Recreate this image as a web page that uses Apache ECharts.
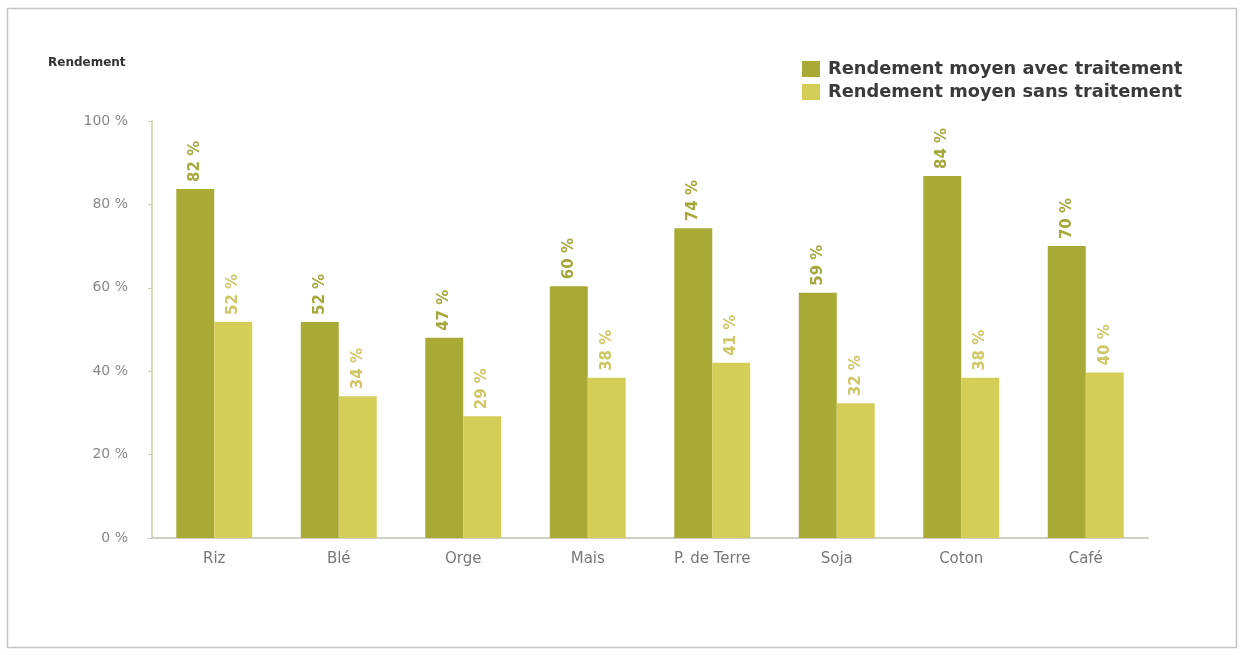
<!DOCTYPE html>
<html>
<head>
<meta charset="utf-8">
<script src="https://cdn.jsdelivr.net/npm/echarts@6/dist/echarts.min.js"></script>
<style>
html,body{margin:0;padding:0;background:#fff;}
#c{width:1244px;height:655px;}
</style>
</head>
<body>
<div id="c"></div>
<script>
var categories = ["Riz", "Blé", "Orge", "Mais", "P. de Terre", "Soja", "Coton", "Café"];
var seriesNames = ["Rendement moyen avec traitement", "Rendement moyen sans traitement"];
var avecValues = [83.7, 51.8, 48.0, 60.4, 74.3, 58.8, 86.8, 70.0];
var sansValues = [51.8, 34.0, 29.2, 38.4, 42.0, 32.3, 38.4, 39.7];
var avecLabels = ["82 %", "52 %", "47 %", "60 %", "74 %", "59 %", "84 %", "70 %"];
var sansLabels = ["52 %", "34 %", "29 %", "38 %", "41 %", "32 %", "38 %", "40 %"];
var yTicks = ["0 %", "20 %", "40 %", "60 %", "80 %", "100 %"];

var chart = echarts.init(document.getElementById('c'));
var fontFam = "'DejaVu Sans', sans-serif";
function lbl(arr, color) {
  return {
    show: true, position: 'top', rotate: 90, distance: 7,
    align: 'left', verticalAlign: 'middle',
    color: color, fontSize: 15, fontWeight: 'bold', fontFamily: fontFam,
    formatter: function (p) { return arr[p.dataIndex]; }
  };
}
chart.setOption({
  animation: false,
  backgroundColor: '#fff',
  graphic: [
    { type: 'rect', shape: { x: 7.5, y: 8.5, width: 1229, height: 639 },
      style: { fill: 'none', stroke: '#c4c4c4', lineWidth: 1.5 } },
    { type: 'text', left: 48, top: 57,
      style: { text: 'Rendement', fill: '#333', font: "bold 12px 'DejaVu Sans', sans-serif" } }
  ],
  legend: {
    orient: 'vertical', left: 797, top: 55, itemWidth: 18, itemHeight: 16, itemGap: 5,
    icon: 'rect',
    textStyle: { color: '#3a3a3a', fontSize: 17.8, fontWeight: 'bold', fontFamily: fontFam, padding: [0, 0, 0, 3] },
    data: seriesNames
  },
  grid: { left: 152, right: 96, top: 121, bottom: 117, containLabel: false },
  xAxis: {
    type: 'category', data: categories,
    axisLine: { lineStyle: { color: '#cfd0c4', width: 2 } },
    axisTick: { show: false },
    axisLabel: { color: '#777', fontSize: 15, margin: 14, fontFamily: fontFam }
  },
  yAxis: {
    type: 'value', min: 0, max: 100, interval: 20,
    axisLine: { show: true, lineStyle: { color: '#d6dbb8', width: 2 } },
    axisTick: { show: true, length: 4, lineStyle: { color: '#c9ccb8' } },
    splitLine: { show: false },
    axisLabel: { color: '#888', fontSize: 14, margin: 24, fontFamily: fontFam,
      formatter: function (v) { return yTicks[Math.round(v / 20)]; } }
  },
  series: [
    { name: seriesNames[0], type: 'bar', data: avecValues, barGap: '0%', barCategoryGap: '39%',
      itemStyle: { color: '#a9aa36' }, label: lbl(avecLabels, '#a5a83c') },
    { name: seriesNames[1], type: 'bar', data: sansValues,
      itemStyle: { color: '#d4cd58' }, label: lbl(sansLabels, '#cdc766') }
  ]
});
</script>
</body>
</html>
